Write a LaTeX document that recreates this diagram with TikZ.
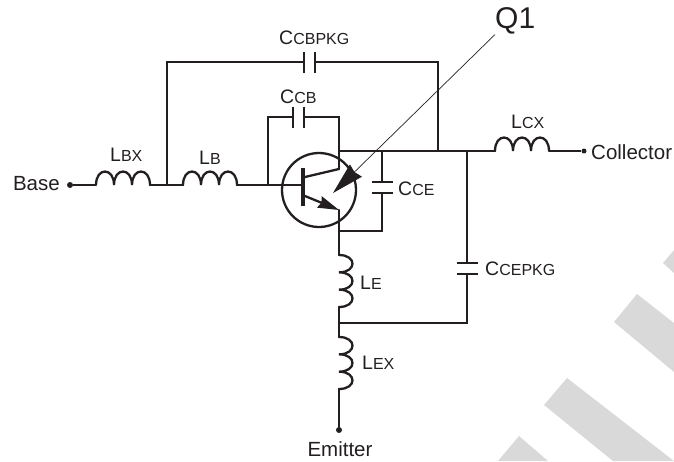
\documentclass[tikz,border=0pt]{standalone}
\usepackage{fontspec}
\setmainfont{Liberation Sans}
\usetikzlibrary{arrows.meta}
\definecolor{inkColor}{RGB}{35,31,32}
\definecolor{stripeColor}{RGB}{217,217,217}
\tikzstyle{schematic} = [x = 1pt, y = -1pt, every node/.style={text=inkColor, inner sep=0pt}]
\tikzstyle{wire} = [color=inkColor, line width=2.3pt, line cap=round, line join=miter]
\tikzstyle{thinWire} = [color=inkColor, line width=1.6pt]
\tikzstyle{plate} = [color=inkColor, line width=2.4pt]
\tikzstyle{terminal} = [circle, fill=inkColor, minimum size=6pt]
\tikzstyle{partText} = [font=\fontsize{19.5}{19.5}\selectfont]
\tikzstyle{pinText} = [font=\fontsize{20.5}{20.5}\selectfont]
\tikzstyle{stripe} = [fill=stripeColor, draw=none]
\newcommand{\partName}[2]{#1{\fontsize{16}{16}\selectfont #2}}
\newcommand{\horizontalInductor}[3]{
  \coordinate (#1In) at (#2,#3);
  \coordinate (#1Out) at (#2 + 54,#3);
  \draw [wire] (#1In)
    .. controls +(0,-18) and +(0,-18) .. ++(18,0)
    .. controls +(0,-18) and +(0,-18) .. ++(18,0)
    .. controls +(0,-18) and +(0,-18) .. (#1Out);
}
\newcommand{\verticalInductor}[3]{
  \coordinate (#1In) at (#2,#3);
  \coordinate (#1Out) at (#2,#3 + 52);
  \draw [wire] (#1In)
    .. controls +(18,0) and +(18,0) .. ++(0,17.33)
    .. controls +(18,0) and +(18,0) .. ++(0,17.33)
    .. controls +(18,0) and +(18,0) .. (#1Out);
}
% plates stand 11 apart
\newcommand{\horizontalCapacitor}[3]{
  \coordinate (#1In) at (#2,#3);
  \coordinate (#1Out) at (#2 + 11,#3);
  \draw [plate] (#2,#3 - 10.5) -- +(0,21);
  \draw [plate] (#2 + 11,#3 - 10.5) -- +(0,21);
}
\newcommand{\verticalCapacitor}[3]{
  \coordinate (#1In) at (#2,#3);
  \coordinate (#1Out) at (#2,#3 + 11);
  \draw [plate] (#2 - 10.5,#3) -- +(21,0);
  \draw [plate] (#2 - 10.5,#3 + 11) -- +(21,0);
}
\begin{document}
\begin{tikzpicture}[schematic]
  \useasboundingbox (0,0) rectangle (674,461);

  \fill [stripe] (663,263) -- (674,250) -- (674,273) -- cycle;
  \fill [stripe] (637,294) -- (614,322) -- (674,372) -- (674,323) -- cycle;
  \fill [stripe] (567,378) -- (544,405) -- (613,461) -- (674,461) -- cycle;
  \fill [stripe] (519,436) -- (498,461) -- (548,461) -- cycle;

  \node (baseDot) [terminal] at (70,185) {};
  \node (collectorDot) [terminal, minimum size=5pt] at (584,151) {};
  \node (emitterDot) [terminal] at (339,430) {};
  \node (basePin) [pinText, anchor=east] at (60,184) {Base};
  \node (collectorPin) [pinText, anchor=west] at (591,152) {Collector};
  \node (emitterPin) [pinText] at (340,449) {Emitter};

  \horizontalInductor{lbx}{96}{185}
  \horizontalInductor{lb}{183}{185}
  \horizontalInductor{lcx}{495}{151}
  \verticalInductor{le}{339}{255}
  \verticalInductor{lex}{339}{337}
  \horizontalCapacitor{cbpkg}{304}{62}
  \horizontalCapacitor{cb}{293}{117}
  \verticalCapacitor{ce}{382}{182}
  \verticalCapacitor{cepkg}{467}{263}

  \node (qBody) [draw=inkColor, line width=2.3pt, circle, minimum size=74pt] at (319,190) {};
  \coordinate (baseBar) at (303,185);
  \coordinate (barTop) at (303,168);
  \coordinate (barBottom) at (303,206);
  \coordinate (collectorStub) at (305,177);
  \coordinate (emitterStub) at (305,196);
  \coordinate (collectorEnd) at (339,169);
  \coordinate (emitterEnd) at (339,210);
  \coordinate (baseJoin) at (167,185);
  \coordinate (cbJoin) at (268,185);
  \coordinate (cbLeft) at (268,117);
  \coordinate (cbRight) at (339,117);
  \coordinate (collectorJoin) at (339,151);
  \coordinate (ceTop) at (382,151);
  \coordinate (ceBottom) at (382,231);
  \coordinate (emitterJoin) at (339,231);
  \coordinate (pkgLeft) at (167,62);
  \coordinate (pkgRight) at (438,62);
  \coordinate (pkgJoin) at (438,151);
  \coordinate (cepkgTop) at (467,151);
  \coordinate (cepkgBottom) at (467,323);
  \coordinate (lowerJoin) at (339,323);

  \draw [thinWire] (baseDot) -- (lbxIn);
  \draw [wire] (lbxOut) -- (lbIn);
  \draw [wire] (lbOut) -- (baseBar);
  \draw [wire] (baseJoin) -- (pkgLeft) -- (cbpkgIn);
  \draw [wire] (cbpkgOut) -- (pkgRight) -- (pkgJoin);
  \draw [wire] (cbJoin) -- (cbLeft) -- (cbIn);
  \draw [wire] (cbOut) -- (cbRight) -- (collectorEnd);
  \draw [wire] (collectorJoin) -- (lcxIn);
  \draw [thinWire] (lcxOut) -- (collectorDot);
  \draw [line width=4pt, color=inkColor] (barTop) -- (barBottom);
  \draw [wire] (collectorStub) -- (collectorEnd);
  \draw [wire, -{Stealth[length=21pt, width=12pt, inset=2pt]}] (emitterStub) -- (emitterEnd);
  \draw [wire] (emitterEnd) -- (leIn);
  \draw [wire] (ceTop) -- (ceIn);
  \draw [wire] (ceOut) -- (ceBottom) -- (emitterJoin);
  \draw [wire] (cepkgTop) -- (cepkgIn);
  \draw [wire] (cepkgOut) -- (cepkgBottom) -- (lowerJoin);
  \draw [wire] (leOut) -- (lexIn);
  \draw [wire] (lexOut) -- (emitterDot);

  \node (cbpkgText) [partText, anchor=west] at (279,38) {\partName{C}{CBPKG}};
  \node (cbText) [partText, anchor=west] at (280,97) {\partName{C}{CB}};
  \node (ceText) [partText, anchor=west] at (398,189) {\partName{C}{CE}};
  \node (cepkgText) [partText, anchor=west] at (485,269) {\partName{C}{CEPKG}};
  \node (lbxText) [partText, anchor=west] at (110,155) {\partName{L}{BX}};
  \node (lbText) [partText, anchor=west] at (199,158) {\partName{L}{B}};
  \node (lcxText) [partText, anchor=west] at (511,122) {\partName{L}{CX}};
  \node (leText) [partText, anchor=west] at (360,283) {\partName{L}{E}};
  \node (lexText) [partText, anchor=west] at (362,363) {\partName{L}{EX}};

  \node (qText) [anchor=west, font=\fontsize{30}{30}\selectfont] at (495,21) {Q1};
  \coordinate (qTip) at (333,193);
  \draw [color=inkColor, line width=0.7pt, -{Stealth[length=32pt, width=17pt, inset=2pt]}] (qText.south west) -- (qTip);
\end{tikzpicture}
\end{document}
